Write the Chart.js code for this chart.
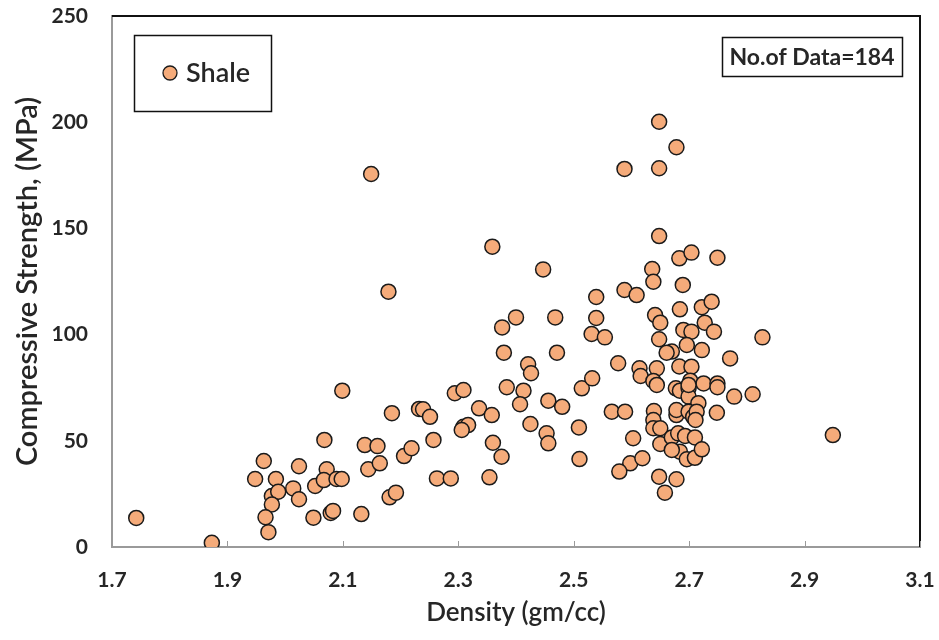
<!DOCTYPE html>
<html>
<head>
<meta charset="utf-8">
<script src="https://cdn.jsdelivr.net/npm/chart.js@4"></script>
<style>
  html, body { margin: 0; padding: 0; background: #fff; }
  #wrap { width: 939px; height: 640px; position: relative; }
</style>
</head>
<body>
<div id="wrap"><canvas id="chart" width="939" height="640"></canvas></div>
<script>
// Datos (densidad vs resistencia a compresión, lutitas)
const densidad = [
  1.742, 1.873, 1.963, 1.948, 1.984, 1.977, 1.988, 1.977, 1.966, 1.971,
  2.024, 2.014, 2.024, 2.052, 2.072, 2.067, 2.089, 2.098, 2.049, 2.079,
  2.083, 2.068, 2.099, 2.132, 2.138, 2.160, 2.144, 2.164, 2.185, 2.232,
  2.181, 2.192, 2.206, 2.219, 2.149, 2.179, 2.359, 2.447, 2.400, 2.376,
  2.468, 2.379, 2.471, 2.421, 2.426, 2.384, 2.413, 2.407, 2.294, 2.309,
  2.336, 2.358, 2.456, 2.480, 2.514, 2.239, 2.251, 2.539, 2.539, 2.531,
  2.554, 2.532, 2.309, 2.317, 2.306, 2.257, 2.360, 2.375, 2.425, 2.453,
  2.456, 2.509, 2.510, 2.263, 2.287, 2.354, 2.566, 2.589, 2.577, 2.603,
  2.598, 2.619, 2.579, 2.588, 2.648, 2.678, 2.648, 2.648, 2.683, 2.704,
  2.749, 2.636, 2.638, 2.689, 2.588, 2.609, 2.641, 2.650, 2.684, 2.722,
  2.739, 2.727, 2.743, 2.690, 2.704, 2.648, 2.696, 2.670, 2.661, 2.722,
  2.827, 2.771, 2.614, 2.616, 2.644, 2.683, 2.704, 2.638, 2.644, 2.702,
  2.725, 2.749, 2.749, 2.677, 2.684, 2.699, 2.699, 2.716, 2.778, 2.810,
  2.639, 2.638, 2.638, 2.650, 2.678, 2.678, 2.699, 2.707, 2.713, 2.748,
  2.650, 2.670, 2.681, 2.693, 2.710, 2.684, 2.696, 2.710, 2.722, 2.670,
  2.648, 2.678, 2.658, 2.949, 2.711, 2.699
];
const resistencia = [
  13.7, 2.0, 40.5, 32.0, 32.0, 24.0, 26.0, 20.0, 14.0, 7.0,
  38.0, 27.6, 22.5, 28.7, 36.6, 31.5, 32.0, 32.0, 13.8, 16.0,
  17.0, 50.4, 73.6, 15.5, 48.0, 47.5, 36.6, 39.4, 63.0, 65.0,
  23.4, 25.6, 42.8, 46.5, 175.6, 120.2, 141.4, 130.7, 108.1, 103.4,
  108.1, 91.5, 91.5, 86.0, 81.8, 75.2, 73.6, 67.2, 72.4, 73.9,
  65.3, 62.1, 68.9, 66.0, 74.7, 64.8, 61.3, 117.7, 107.8, 100.3,
  98.7, 79.4, 56.6, 57.4, 55.1, 50.4, 49.1, 42.5, 57.9, 53.5,
  48.8, 56.3, 41.4, 32.3, 32.3, 32.8, 63.7, 63.7, 86.5, 51.2,
  39.4, 41.8, 35.5, 178.0, 200.2, 188.2, 178.3, 146.4, 135.9, 138.6,
  136.2, 130.9, 124.9, 123.4, 121.0, 118.6, 109.2, 105.6, 111.9, 112.9,
  115.5, 105.6, 101.4, 102.2, 101.4, 97.8, 95.1, 92.0, 91.5, 92.7,
  98.7, 88.8, 84.1, 80.5, 84.1, 85.0, 84.9, 78.2, 76.3, 78.3,
  77.0, 77.0, 75.2, 74.7, 73.6, 74.7, 70.8, 67.7, 70.8, 71.9,
  64.0, 59.8, 55.9, 55.9, 62.1, 64.5, 63.7, 61.3, 63.7, 63.2,
  48.5, 51.6, 53.5, 52.3, 51.6, 44.9, 41.3, 42.0, 46.0, 45.7,
  33.1, 31.9, 25.6, 52.7, 59.8, 76.3
];
const xTicks = [1.7, 1.9, 2.1, 2.3, 2.5, 2.7, 2.9, 3.1];
const yTicks = [0, 50, 100, 150, 200, 250];
const serieNombre = 'Shale';
const notaDatos = 'No.of Data=184';

const colorRelleno = '#f5ab7a';
const colorBorde = '#1a1a1a';
const colorTexto = '#262626';
const fuente = 'Lato, "Open Sans", sans-serif';

const puntos = densidad.map((d, i) => ({ x: d, y: resistencia[i] }));

// Marco superior/derecho, marcas del eje X, leyenda y nota
const decoraciones = {
  id: 'decoraciones',
  beforeDatasetsDraw(chart) {
    const { ctx, chartArea: a, scales } = chart;
    ctx.save();
    ctx.strokeStyle = '#111';
    ctx.lineWidth = 2;
    ctx.beginPath();
    ctx.moveTo(a.left, a.top);
    ctx.lineTo(a.right, a.top);
    ctx.lineTo(a.right, a.bottom);
    ctx.stroke();
    // marcas hacia dentro en el eje X
    ctx.strokeStyle = '#9a9a9a';
    ctx.lineWidth = 1;
    xTicks.forEach(v => {
      const x = Math.round(scales.x.getPixelForValue(v)) + 0.5;
      ctx.beginPath();
      ctx.moveTo(x, a.bottom);
      ctx.lineTo(x, a.bottom - 6);
      ctx.stroke();
    });
    ctx.restore();
  },
  afterDatasetsDraw(chart) {
    const { ctx } = chart;
    ctx.save();
    // leyenda
    ctx.fillStyle = '#fff';
    ctx.fillRect(134, 35, 138, 76);
    ctx.strokeStyle = '#111';
    ctx.lineWidth = 1.5;
    ctx.strokeRect(134.5, 35.5, 137, 76);
    ctx.beginPath();
    ctx.arc(170, 73, 7, 0, Math.PI * 2);
    ctx.fillStyle = colorRelleno;
    ctx.fill();
    ctx.lineWidth = 1.3;
    ctx.strokeStyle = colorBorde;
    ctx.stroke();
    ctx.fillStyle = colorTexto;
    ctx.font = '600 27px ' + fuente;
    ctx.textBaseline = 'middle';
    ctx.textAlign = 'left';
    ctx.fillText(serieNombre, 186, 73);
    // nota
    ctx.fillStyle = '#fff';
    ctx.fillRect(722, 37, 181, 40);
    ctx.strokeStyle = '#111';
    ctx.lineWidth = 1.5;
    ctx.strokeRect(722.5, 37.5, 180, 39);
    ctx.fillStyle = colorTexto;
    ctx.font = 'bold 23px ' + fuente;
    ctx.textAlign = 'center';
    ctx.fillText(notaDatos, 812, 58);
    ctx.restore();
  }
};

new Chart(document.getElementById('chart'), {
  type: 'scatter',
  data: {
    datasets: [{
      label: serieNombre,
      data: puntos,
      backgroundColor: colorRelleno,
      borderColor: colorBorde,
      borderWidth: 1.5,
      pointRadius: 7.5,
      pointHoverRadius: 7.5
    }]
  },
  options: {
    responsive: false,
    animation: false,
    layout: { padding: { top: 16, right: 19, left: 0, bottom: 0 } },
    plugins: {
      legend: { display: false },
      tooltip: { enabled: false }
    },
    scales: {
      x: {
        type: 'linear',
        min: 1.7,
        max: 3.1,
        afterBuildTicks(scale) {
          scale.ticks = xTicks.map(v => ({ value: v }));
        },
        afterFit(scale) {
          scale.height = 93;
          scale.paddingLeft = 0;
          scale.paddingRight = 0;
        },
        grid: { display: false, drawTicks: false },
        border: { display: true, color: '#9a9a9a', width: 2 },
        ticks: {
          padding: 21,
          color: colorTexto,
          font: { family: fuente, size: 21, weight: 'bold' },
          callback: v => Number(v).toFixed(1)
        },
        title: {
          display: true,
          text: 'Density (gm/cc)',
          color: colorTexto,
          font: { family: fuente, size: 26, weight: '600' },
          padding: { top: 0, bottom: 12 }
        }
      },
      y: {
        type: 'linear',
        min: 0,
        max: 250,
        afterBuildTicks(scale) {
          scale.ticks = yTicks.map(v => ({ value: v }));
        },
        afterFit(scale) {
          scale.width = 112;
          scale.paddingTop = 0;
          scale.paddingBottom = 0;
        },
        grid: { display: false, drawTicks: false },
        border: { display: true, color: '#9a9a9a', width: 2 },
        ticks: {
          padding: 24,
          color: colorTexto,
          font: { family: fuente, size: 21, weight: 'bold' }
        },
        title: {
          display: true,
          text: 'Compressive Strength, (MPa)',
          color: colorTexto,
          font: { family: fuente, size: 29, weight: '600' },
          padding: { top: 10, bottom: 0 }
        }
      }
    }
  },
  plugins: [decoraciones]
});
</script>
</body>
</html>
